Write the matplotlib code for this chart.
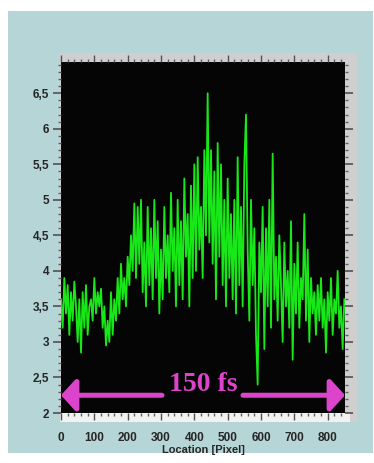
import matplotlib
matplotlib.use("Agg")
import matplotlib.pyplot as plt
from matplotlib.patches import Rectangle
from matplotlib.ticker import MultipleLocator, FixedLocator, FuncFormatter

# ---- data (step of 5 pixels) ----
x_start = 0
x_step = 5
signal = [
    3.6, 3.2, 3.9, 3.4, 3.8, 3.1, 3.7, 3.3, 3.85, 3.5,
    3.0, 3.6, 2.85, 3.7, 3.2, 3.8, 3.1, 3.5, 3.6, 3.3,
    3.9, 3.4, 3.7, 3.5, 3.75, 3.2, 3.5, 2.95, 3.3, 3.0,
    3.7, 3.1, 3.6, 3.3, 3.9, 3.4, 4.1, 3.6, 3.9, 3.5,
    4.2, 3.8, 4.5, 4.0, 4.95, 3.9, 4.9, 4.1, 5.0, 3.7,
    4.4, 3.5, 4.9, 3.8, 4.6, 3.6, 5.0, 3.9, 4.7, 3.4,
    4.3, 3.6, 4.9, 3.9, 4.5, 3.7, 5.1, 4.0, 4.6, 3.5,
    5.0, 3.8, 4.7, 3.6, 5.3, 4.2, 4.8, 3.5, 5.2, 3.9,
    5.5, 4.0, 5.6, 4.3, 4.9, 3.9, 5.7, 4.5, 6.5, 4.4,
    5.7, 4.1, 5.4, 3.6, 5.8, 4.2, 5.5, 3.8, 5.0, 3.5,
    5.3, 3.9, 4.8, 3.6, 5.0, 3.4, 5.6, 3.8, 4.9, 3.5,
    5.5, 6.2, 4.3, 3.3, 5.0, 3.8, 4.6, 3.1, 2.4, 4.4,
    3.7, 4.9, 2.9, 4.6, 3.5, 5.0, 3.2, 5.65, 3.6, 4.2,
    3.3, 4.5, 3.8, 3.0, 4.4, 3.5, 4.0, 3.2, 4.7, 2.75,
    4.1, 3.4, 4.4, 3.2, 3.9, 3.6, 4.8, 3.3, 4.3, 3.0,
    3.9, 3.4, 3.7, 3.1, 3.8, 3.3, 3.9, 3.2, 3.6, 2.85,
    3.7, 3.3, 3.9, 3.1, 3.6, 3.4, 4.0, 3.2, 3.5, 2.9,
    3.6,
]
x_vals = [x_start + i * x_step for i in range(len(signal))]

y_ticks = [2, 2.5, 3, 3.5, 4, 4.5, 5, 5.5, 6, 6.5]
x_ticks = [0, 100, 200, 300, 400, 500, 600, 700, 800]
x_label = "Location [Pixel]"
arrow_text = "150 fs"
arrow_y = 2.25

W, H = 374, 463
fig = plt.figure(figsize=(W / 100, H / 100), dpi=100, facecolor="white")

# background axes in pixel coordinates (y downward)
bg = fig.add_axes([0, 0, 1, 1], zorder=-5)
bg.set_xlim(0, W)
bg.set_ylim(H, 0)
bg.axis("off")
bg.add_patch(Rectangle((8, 11), 365, 442, facecolor="#b6d5d6", edgecolor="none"))
bg.add_patch(Rectangle((60, 53), 297, 369, facecolor="#cfcfcf", edgecolor="none"))
bg.add_patch(Rectangle((60, 413), 290, 9, facecolor="#f2f2f2", edgecolor="none"))

def fx(px):
    return px / W

def fy(py):
    return 1 - py / H

ax = fig.add_axes([fx(61), fy(413), fx(345) - fx(61), fy(62) - fy(413)], zorder=1)
ax.set_facecolor("#050505")
ax.plot(x_vals, signal, color="#18e818", lw=1.3, zorder=2)
ax.set_xlim(0, 852)
ax.set_ylim(2, 6.94)

for s in ax.spines.values():
    s.set_visible(False)

ax.yaxis.set_major_locator(FixedLocator(y_ticks))
ax.yaxis.set_minor_locator(MultipleLocator(0.1))
ax.xaxis.set_major_locator(FixedLocator(x_ticks))
ax.xaxis.set_minor_locator(MultipleLocator(20))
ax.yaxis.set_major_formatter(FuncFormatter(lambda v, p: f"{v:g}".replace(".", ",")))

ax.tick_params(axis="y", which="major", left=True, right=True, direction="out",
               length=5.5, width=1.2, color="#505050", labelsize=8.5,
               labelcolor="#262626", pad=3)
ax.tick_params(axis="y", which="minor", left=True, right=True, direction="out",
               length=2, width=1, color="#606060")
ax.tick_params(axis="x", which="major", bottom=True, top=True, direction="out",
               length=5, width=1, color="#505050", labelsize=8.5,
               labelcolor="#262626", pad=9)
ax.tick_params(axis="x", which="minor", bottom=True, top=True, direction="out",
               length=2.5, width=1, color="#606060")
for lab in ax.get_xticklabels() + ax.get_yticklabels():
    lab.set_fontfamily("Liberation Sans")
    lab.set_fontweight("bold")

ax.set_xlabel(x_label, fontsize=8, fontweight="bold", family="Liberation Sans",
              color="#262626", labelpad=0.5)

mag = "#dd44cc"
ax.annotate("", xy=(0, arrow_y), xytext=(303, arrow_y),
            arrowprops=dict(arrowstyle="-|>,head_length=0.5,head_width=0.55",
                            mutation_scale=18, lw=3.6, color=mag, shrinkA=0, shrinkB=0),
            zorder=3)
ax.annotate("", xy=(852, arrow_y), xytext=(546, arrow_y),
            arrowprops=dict(arrowstyle="-|>,head_length=0.5,head_width=0.55",
                            mutation_scale=18, lw=3.6, color=mag, shrinkA=0, shrinkB=0),
            zorder=3)
ax.text(426, arrow_y - 0.02, arrow_text, color=mag, fontsize=20, fontweight="bold",
        family="Liberation Serif", ha="center", va="bottom", zorder=4)

fig.savefig("out.png", dpi=100, facecolor="white")
